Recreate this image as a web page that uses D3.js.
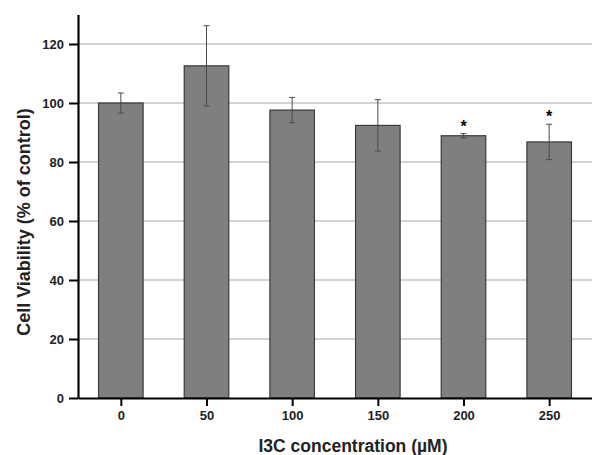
<!DOCTYPE html>
<html>
<head>
<meta charset="utf-8">
<script src="https://cdn.jsdelivr.net/npm/d3@7"></script>
<style>
  body { margin: 0; background: #fff; }
  svg { display: block; font-family: "Liberation Sans", Arial, sans-serif; }
</style>
</head>
<body>
<svg id="chart" width="592" height="455"></svg>
<script>
let concentrations = [0, 50, 100, 150, 200, 250]
let viability = [100, 112.6, 97.6, 92.4, 88.9, 86.8]
let errors = [3.4, 13.6, 4.3, 8.7, 0.7, 6]
let significant = [false, false, false, false, true, true]
let yTicks = [0, 20, 40, 60, 80, 100, 120]

let svg = d3.select("#chart")

let x = d3.scaleLinear().domain([-25, 275]).range([78, 592])
let y = d3.scaleLinear().domain([0, 130]).range([398, 14.5])
let barW = x(26) - x(0)

// grid
svg.append("g")
    .selectAll("line")
    .data(yTicks.filter(d => d > 0))
    .join("line")
    .attr("x1", x(-25))
    .attr("x2", 592)
    .attr("y1", d => y(d))
    .attr("y2", d => y(d))
    .attr("stroke", "#a8a8a8")
    .attr("stroke-width", 1.2)

// bars
svg.append("g")
    .selectAll("rect")
    .data(concentrations)
    .join("rect")
    .attr("x", (d, i) => x(d) - barW / 2)
    .attr("y", (d, i) => y(viability[i]))
    .attr("width", barW)
    .attr("height", (d, i) => y(0) - y(viability[i]))
    .attr("fill", "#7f7f7f")
    .attr("stroke", "#3a3a3a")
    .attr("stroke-width", 1.2)

// error bars
let eb = svg.append("g").attr("stroke", "#4a4a4a").attr("stroke-width", 1)
concentrations.forEach((c, i) => {
    let cx = x(c)
    let top = y(viability[i] + errors[i])
    let bot = y(viability[i] - errors[i])
    eb.append("line").attr("x1", cx).attr("x2", cx).attr("y1", top).attr("y2", bot)
    eb.append("line").attr("x1", cx - 3).attr("x2", cx + 3).attr("y1", top).attr("y2", top)
    eb.append("line").attr("x1", cx - 3).attr("x2", cx + 3).attr("y1", bot).attr("y2", bot)
})

// asterisks
svg.append("g")
    .selectAll("text")
    .data(concentrations.filter((d, i) => significant[i]))
    .join("text")
    .attr("x", d => x(d))
    .attr("y", d => {
        let i = concentrations.indexOf(d)
        return y(viability[i] + errors[i]) - 2
    })
    .attr("text-anchor", "middle")
    .attr("font-size", 16)
    .attr("font-weight", "bold")
    .text("*")

// y axis
let axisL = d3.axisLeft(y)
    .tickValues(yTicks)
    .tickSizeOuter(0)
    .tickSizeInner(9)
    .tickPadding(5)

let gy = svg.append("g")
    .attr("transform", `translate(${x(-25)},0)`)
    .call(axisL)
gy.select(".domain").attr("stroke", "#000").attr("stroke-width", 2.2)
gy.selectAll(".tick line").attr("stroke", "#000").attr("stroke-width", 2)
gy.selectAll(".tick text")
    .attr("font-size", 13)
    .attr("font-weight", "bold")
    .attr("fill", "#222")
    .attr("font-family", "Liberation Sans, Arial, sans-serif")

// x axis
let axisB = d3.axisBottom(x)
    .tickValues(concentrations)
    .tickSizeOuter(0)
    .tickSizeInner(8)
    .tickPadding(5)

let gx = svg.append("g")
    .attr("transform", `translate(0,${y(0)})`)
    .call(axisB)
gx.select(".domain").attr("stroke", "#000").attr("stroke-width", 2.2)
gx.selectAll(".tick line").attr("stroke", "#000").attr("stroke-width", 2)
gx.selectAll(".tick text")
    .attr("font-size", 13)
    .attr("font-weight", "bold")
    .attr("fill", "#222")
    .attr("font-family", "Liberation Sans, Arial, sans-serif")

// axis titles
svg.append("text")
    .attr("x", 353)
    .attr("y", 452)
    .attr("text-anchor", "middle")
    .attr("font-size", 17.5)
    .attr("font-weight", "bold")
    .attr("fill", "#222")
    .text("I3C concentration (µM)")

svg.append("text")
    .attr("transform", "translate(30,222) rotate(-90)")
    .attr("text-anchor", "middle")
    .attr("font-size", 18)
    .attr("font-weight", "bold")
    .attr("fill", "#222")
    .text("Cell Viability (% of control)")
</script>
</body>
</html>
